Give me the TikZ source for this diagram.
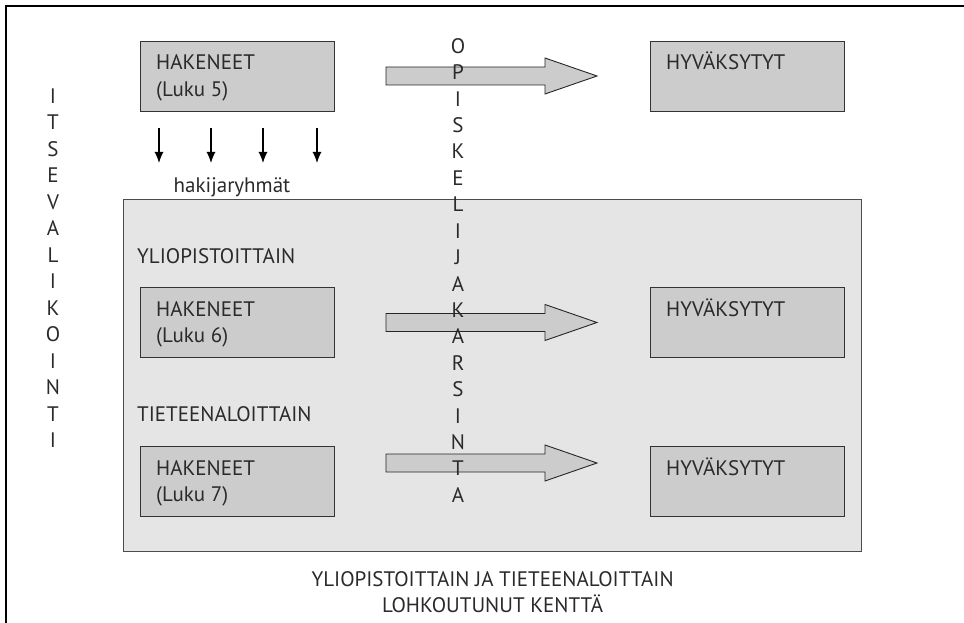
\documentclass[tikz,border=0pt]{standalone}
\usepackage{fontspec}
\setmainfont{PT Sans}
\usetikzlibrary{arrows.meta}
\usetikzlibrary{calc}
\usetikzlibrary{positioning}

\definecolor{ruutuharmaa}{HTML}{CCCCCC}
\definecolor{kenttaharmaa}{HTML}{E5E5E5}
\definecolor{tekstiharmaa}{HTML}{2A2A2A}

\begin{document}
\begin{tikzpicture}[x=1pt,y=-1pt,
  every node/.style={font=\fontsize{21}{26.5}\selectfont, text=tekstiharmaa, inner sep=0pt},
  ruutu/.style={draw=black!80, line width=0.9pt, fill=ruutuharmaa, anchor=north west, minimum width=194pt, minimum height=70pt},
  ruututeksti/.style={anchor=base west, align=left},
  kentta/.style={draw=black!70, line width=1.2pt, fill=kenttaharmaa, anchor=north west, minimum width=738pt, minimum height=352pt},
  blokkinuoli/.style={draw=black!85, line width=0.9pt, fill=ruutuharmaa},
  alasnuoli/.style={-{Latex[length=11pt,width=9pt]}, line width=1.2pt, black},
  pystykirjain/.style={anchor=base}]

\useasboundingbox (0,0) rectangle (964,623);

% kehys
\coordinate (kulma) at (6,6);
\draw [line width=1.5pt] (6,623) -- (kulma) -- (964,6);

% lohkoutunut kentta
\node [kentta] (lohko) at (123,199) {};

% laatikot
\node [ruutu] (hak5) at (140,41) {};
\node [ruutu] (hyv5) at (650,41) {};
\node [ruutu] (hak6) at (140,287) {};
\node [ruutu] (hyv6) at (650,287) {};
\node [ruutu] (hak7) at (140,446) {};
\node [ruutu] (hyv7) at (650,446) {};

% kaksirivisen tekstin base on alemman rivin perusviiva
\node [ruututeksti] (hak5t) at ($(hak5.north west)+(16,55.5)$) {HAKENEET\\(Luku 5)};
\node [ruututeksti] (hyv5t) at ($(hyv5.north west)+(16,29)$) {HYVÄKSYTYT};
\node [ruututeksti] (hak6t) at ($(hak6.north west)+(16,55.5)$) {HAKENEET\\(Luku 6)};
\node [ruututeksti] (hyv6t) at ($(hyv6.north west)+(16,29)$) {HYVÄKSYTYT};
\node [ruututeksti] (hak7t) at ($(hak7.north west)+(16,55.5)$) {HAKENEET\\(Luku 7)};
\node [ruututeksti] (hyv7t) at ($(hyv7.north west)+(16,29)$) {HYVÄKSYTYT};

% otsikot
\node [anchor=base west] (ylio) at (137,263) {YLIOPISTOITTAIN};
\node [anchor=base west] (tiet) at (137,421) {TIETEENALOITTAIN};
\node [anchor=base] (ryhmat) at (232,192) {hakijaryhmät};
\node [align=center, anchor=north] (lohkoteksti) at ($(lohko.south)+(0,19)$) {YLIOPISTOITTAIN JA TIETEENALOITTAIN\\LOHKOUTUNUT KENTTÄ};

% nuolet alas
\foreach \x [count=\i] in {159,211,263,317} {
  \coordinate (nuolialku\i) at (\x,128);
  \coordinate (nuoliloppu\i) at (\x,163);
  \draw [alasnuoli] (nuolialku\i) -- (nuoliloppu\i);
}

% blokkinuolet
\foreach \y in {76,322.5,463}
  \draw [blokkinuoli] (386,\y-9) -- (545,\y-9) -- (545,\y-18) -- (597,\y) -- (545,\y+18) -- (545,\y+9) -- (386,\y+9) -- cycle;

% pystytekstit
\foreach \k [count=\i from 0] in {I,T,S,E,V,A,L,I,K,O,I,N,T,I}
  \node [pystykirjain] (itse\i) at (53,103.4+26.5*\i) {\k};
\foreach \k [count=\i from 0] in {O,P,I,S,K,E,L,I,J,A,K,A,R,S,I,N,T,A}
  \node [pystykirjain] (karsinta\i) at (458,53.4+26.4*\i) {\k};

\end{tikzpicture}
\end{document}
